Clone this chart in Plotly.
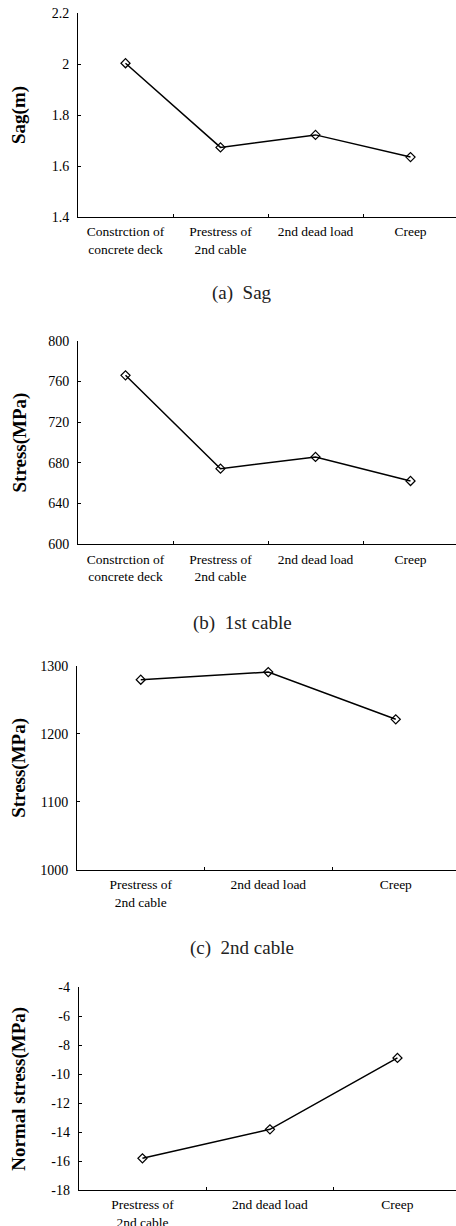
import plotly.graph_objects as go

# ---- data ----
cats4 = ["Constrction of<br>concrete deck", "Prestress of<br>2nd cable", "2nd dead load", "Creep"]
cats3 = ["Prestress of<br>2nd cable", "2nd dead load", "Creep"]
sag = [2.003, 1.673, 1.722, 1.635]
stress1 = [766, 674.3, 685.8, 662.2]
stress2 = [1279.4, 1290.7, 1221.3]
normal = [-15.81, -13.81, -8.88]

ytitles = ["Sag(m)", "Stress(MPa)", "Stress(MPa)", "Normal stress(MPa)"]
captions = ["(a)  Sag", "(b)  1st cable", "(c)  2nd cable"]
ytickvals = [
    [1.4, 1.6, 1.8, 2.0, 2.2],
    [600, 640, 680, 720, 760, 800],
    [1000, 1100, 1200, 1300],
    [-18, -16, -14, -12, -10, -8, -6, -4],
]
yticktext = [
    ["1.4", "1.6", "1.8", "2", "2.2"],
    ["600", "640", "680", "720", "760", "800"],
    ["1000", "1100", "1200", "1300"],
    ["-18", "-16", "-14", "-12", "-10", "-8", "-6", "-4"],
]

H = 1226
W = 456
# pixel positions (top, bottom) of plot areas
areas = [(13, 217), (340.7, 544.3), (665.7, 870), (987.3, 1190)]
xleft = [78, 78, 77, 78.7]
cat_w = [95, 95, 127.5, 127.5]
caption_y = [293, 623, 948]
title_x = 19

font_family = "Liberation Serif, DejaVu Serif, serif"

fig = go.Figure()
series = [(cats4, sag), (cats4, stress1), (cats3, stress2), (cats3, normal)]
layout = {}
annotations = []
for i, (cats, vals) in enumerate(series):
    n = i + 1
    xa = "x" if n == 1 else f"x{n}"
    ya = "y" if n == 1 else f"y{n}"
    fig.add_trace(go.Scatter(
        x=cats, y=vals, xaxis=xa, yaxis=ya, mode="lines+markers",
        line=dict(color="black", width=1.5),
        marker=dict(symbol="diamond-open", size=7, color="black", line=dict(width=1.2)),
        showlegend=False, cliponaxis=False,
    ))
    top, bot = areas[i]
    xend = -0.5 + (W - xleft[i]) / cat_w[i]
    layout["xaxis" if n == 1 else f"xaxis{n}"] = dict(
        domain=[xleft[i] / W, 1], anchor=ya, type="category",
        range=[-0.5, xend], showline=True, linecolor="black", linewidth=1,
        ticks="inside", ticklen=3, tickcolor="black", tickson="boundaries",
        showgrid=False, zeroline=False, automargin=False, ticklabelstandoff=2,
        tickfont=dict(family=font_family, size=13.5, color="black"),
    )
    layout["yaxis" if n == 1 else f"yaxis{n}"] = dict(
        domain=[1 - bot / H, 1 - top / H], anchor=xa,
        range=[ytickvals[i][0], ytickvals[i][-1]],
        tickvals=ytickvals[i], ticktext=yticktext[i],
        showline=True, linecolor="black", linewidth=1,
        ticks="inside", ticklen=3, tickcolor="black",
        showgrid=False, zeroline=False, automargin=False, ticklabelstandoff=5,
        tickfont=dict(family=font_family, size=14, color="black"),
    )
    annotations.append(dict(
        text=f"<b>{ytitles[i]}</b>", xref="paper", yref="paper",
        x=title_x / W, y=1 - (top + bot) / 2 / H, textangle=-90,
        showarrow=False, xanchor="center", yanchor="middle",
        font=dict(family=font_family, size=19, color="black"),
    ))

for i, cap in enumerate(captions):
    annotations.append(dict(
        text=cap, xref="paper", yref="paper", x=242 / W, y=1 - caption_y[i] / H,
        showarrow=False, xanchor="center", yanchor="middle",
        font=dict(family=font_family, size=19, color="#222222"),
    ))

fig.update_layout(
    width=W, height=H, margin=dict(l=0, r=0, t=0, b=0),
    paper_bgcolor="white", plot_bgcolor="white",
    annotations=annotations, **layout,
)
fig.write_html(
    "out.html",
    config={"displayModeBar": False},
    post_script="document.body.style.margin='0';document.body.style.overflow='hidden';",
)
